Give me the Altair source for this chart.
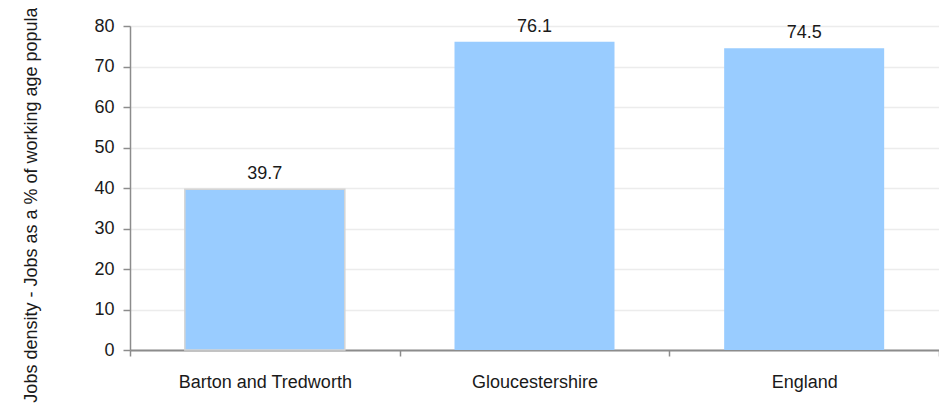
import altair as alt
import pandas as pd

regions = ["Barton and Tredworth", "Gloucestershire", "England"]
values = [39.7, 76.1, 74.5]
y_ticks = [0, 10, 20, 30, 40, 50, 60, 70, 80]

df = pd.DataFrame({"region": regions, "value": values})

FONT = "Liberation Sans"

base = alt.Chart(df).encode(
    x=alt.X(
        "region:N",
        sort=regions,
        scale=alt.Scale(paddingInner=0, paddingOuter=0),
        axis=alt.Axis(
            title=None,
            labelAngle=0,
            tickBand="extent",
            tickSize=6,
            tickColor="#8c8c8c",
            tickWidth=1.5,
            domainColor="#8c8c8c",
            domainWidth=2,
            labelPadding=17,
            labelFontSize=18,
            labelFont=FONT,
            labelColor="#1a1a1a",
            grid=False,
        ),
    ),
)

bars = base.mark_bar(size=160, color="#99CCFF", strokeWidth=1.5).encode(
    y=alt.Y(
        "value:Q",
        scale=alt.Scale(domain=[0, 80], nice=False),
        axis=alt.Axis(
            values=y_ticks,
            title="Jobs density - Jobs as a % of working age population",
            titleFont=FONT,
            titleFontSize=18,
            titleFontWeight="normal",
            titleColor="#1a1a1a",
            titleAngle=-90,
            titleAlign="center",
            titleBaseline="alphabetic",
            titleX=-94,
            titleY=164,
            labelFontSize=18,
            labelFont=FONT,
            labelColor="#1a1a1a",
            labelPadding=9,
            tickSize=7,
            tickColor="#8c8c8c",
            tickWidth=1.5,
            domainColor="#8c8c8c",
            domainWidth=1.5,
            grid=True,
            gridColor="#ececec",
            gridWidth=1.5,
        ),
    ),
    stroke=alt.condition(
        alt.datum.region == "Barton and Tredworth",
        alt.value("#d4d4d4"),
        alt.value("transparent"),
    ),
)

labels = base.mark_text(
    baseline="alphabetic", dy=-10, fontSize=18, font=FONT, color="#1a1a1a"
).encode(
    y=alt.Y("value:Q"),
    text=alt.Text("value:Q", format=".1f"),
)

chart = (
    alt.layer(bars, labels)
    .properties(
        width=809,
        height=324,
        autosize=alt.AutoSizeParams(type="none"),
        padding={"left": 122, "top": 18, "right": 0, "bottom": 58},
    )
    .configure_view(stroke=None)
    .configure(background="white")
)

chart.save("out.html", embed_options={"renderer": "svg", "actions": False})
